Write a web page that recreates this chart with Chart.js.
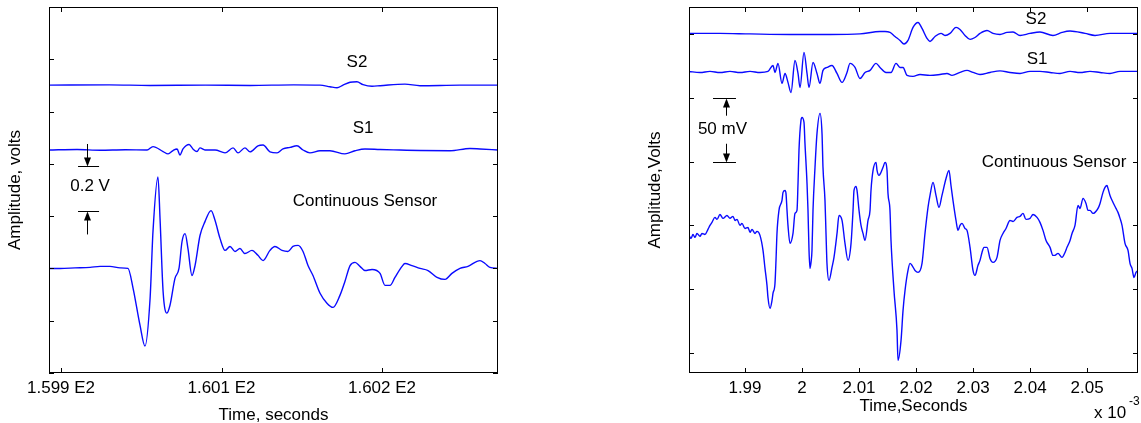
<!DOCTYPE html>
<html>
<head>
<meta charset="utf-8">
<script src="https://cdn.jsdelivr.net/npm/chart.js@4"></script>
<style>
body { margin: 0; background: #fff; width: 1141px; height: 423px; overflow: hidden; position: relative; }
canvas { position: absolute; top: 0; }
#leftChart { left: 0; }
#rightChart { left: 640px; }
</style>
</head>
<body>
<canvas id="leftChart" width="570" height="423"></canvas>
<canvas id="rightChart" width="501" height="423"></canvas>
<script>
// ---- left panel: time in tick steps, amplitude in volts ----
const leftXTicks = [0, 1, 2];
const leftXTickLabels = ['1.599 E2', '1.601 E2', '1.602 E2'];
const leftYTicks = [-0.4, -0.2, 0, 0.2, 0.4, 0.6, 0.8, 1.0];

const contLeftT = [-0.075,-0.006,0.087,0.181,0.243,0.305,0.368,0.417,0.449,0.492,0.523,0.555,0.573,0.604,0.617,0.636,0.660,0.679,0.710,0.735,0.754,0.773,0.791,0.816,0.835,0.866,0.897,0.935,0.960,0.991,1.022,1.053,1.084,1.115,1.146,1.190,1.227,1.259,1.302,1.333,1.377,1.414,1.445,1.477,1.508,1.539,1.570,1.614,1.657,1.695,1.738,1.769,1.801,1.832,1.863,1.894,1.938,1.988,2.019,2.050,2.081,2.125,2.143,2.187,2.237,2.287,2.343,2.393,2.436,2.486,2.536,2.611,2.642,2.673,2.723];
const contLeftV = [0,0,0.002,0.004,0.008,0.008,0.002,0,-0.076,-0.217,-0.297,-0.114,0.141,0.350,0.190,-0.088,-0.171,-0.141,-0.038,0,0.103,0.133,0.076,-0.027,0.011,0.126,0.179,0.221,0.183,0.114,0.069,0.084,0.065,0.076,0.057,0.069,0.050,0.030,0.069,0.084,0.069,0.065,0.084,0.088,0.065,0.011,-0.027,-0.095,-0.133,-0.149,-0.103,-0.050,0.011,0.023,0.008,-0.008,-0.004,-0.019,-0.065,-0.065,-0.034,0.008,0.019,0.011,0,-0.008,-0.034,-0.042,-0.019,0,0.008,0.030,0.019,0.004,0];

const s1LeftT = [-0.075,0.100,0.243,0.400,0.536,0.573,0.636,0.667,0.698,0.723,0.741,0.760,0.798,0.822,0.847,0.866,0.897,0.960,1.022,1.072,1.103,1.146,1.178,1.227,1.259,1.302,1.346,1.383,1.427,1.470,1.508,1.551,1.614,1.676,1.769,1.832,1.894,1.988,2.112,2.237,2.424,2.548,2.611,2.723];
const s1LeftV = [0.453,0.455,0.452,0.454,0.453,0.466,0.447,0.438,0.451,0.457,0.434,0.457,0.474,0.457,0.447,0.461,0.453,0.453,0.442,0.461,0.442,0.461,0.446,0.469,0.472,0.446,0.442,0.457,0.463,0.469,0.453,0.442,0.450,0.450,0.438,0.450,0.457,0.455,0.453,0.451,0.450,0.459,0.457,0.453];

const s2LeftT = [-0.075,0.300,0.555,0.900,1.178,1.450,1.614,1.676,1.720,1.757,1.801,1.844,1.882,1.938,1.988,2.143,2.237,2.486,2.723];
const s2LeftV = [0.701,0.702,0.700,0.701,0.700,0.702,0.701,0.695,0.691,0.701,0.712,0.714,0.703,0.697,0.699,0.705,0.699,0.701,0.701];

// ---- right panel: time in 1e-3 s, amplitude in mV ----
const rightXTicks = [1.99, 2.00, 2.01, 2.02, 2.03, 2.04, 2.05];
const rightXTickLabels = ['1.99', '2', '2.01', '2.02', '2.03', '2.04', '2.05'];
const rightYTicks = [-100, -50, 0, 50, 100, 150];

const contRightX = [1.98018,1.98053,1.98088,1.98123,1.98158,1.98211,1.98246,1.98298,1.98351,1.98386,1.98421,1.98474,1.98509,1.98561,1.98614,1.98684,1.98737,1.98790,1.98825,1.98860,1.98912,1.98947,1.99000,1.99053,1.99088,1.99123,1.99175,1.99210,1.99263,1.99316,1.99351,1.99386,1.99403,1.99439,1.99474,1.99491,1.99526,1.99544,1.99561,1.99596,1.99649,1.99667,1.99702,1.99719,1.99737,1.99754,1.99789,1.99842,1.99877,1.99912,1.99930,1.99947,1.99982,2.00000,2.00035,2.00052,2.00088,2.00105,2.00123,2.00140,2.00158,2.00175,2.00193,2.00228,2.00263,2.00316,2.00351,2.00368,2.00403,2.00421,2.00438,2.00474,2.00526,2.00561,2.00614,2.00649,2.00702,2.00754,2.00807,2.00860,2.00895,2.00912,2.00947,2.00965,2.01000,2.01035,2.01070,2.01105,2.01158,2.01193,2.01210,2.01246,2.01298,2.01316,2.01351,2.01385,2.01421,2.01456,2.01491,2.01508,2.01543,2.01561,2.01613,2.01666,2.01684,2.01737,2.01772,2.01807,2.01859,2.01894,2.01929,2.01982,2.02035,2.02105,2.02157,2.02210,2.02245,2.02298,2.02350,2.02403,2.02455,2.02526,2.02578,2.02613,2.02648,2.02701,2.02736,2.02771,2.02806,2.02859,2.02894,2.02947,2.02999,2.03034,2.03087,2.03122,2.03157,2.03192,2.03245,2.03297,2.03350,2.03420,2.03473,2.03525,2.03578,2.03648,2.03701,2.03771,2.03824,2.03876,2.03929,2.03999,2.04052,2.04122,2.04174,2.04227,2.04280,2.04350,2.04402,2.04437,2.04490,2.04560,2.04613,2.04648,2.04701,2.04736,2.04788,2.04841,2.04876,2.04929,2.04981,2.05016,2.05051,2.05104,2.05139,2.05192,2.05227,2.05279,2.05314,2.05349,2.05367,2.05402,2.05455,2.05507,2.05542,2.05578,2.05613,2.05665,2.05718,2.05753,2.05788,2.05823,2.05858,2.05893];
const contRightY = [-7.8,-10.2,-7.1,-9.4,-6.3,-8.6,-6.3,-7.1,-3.1,0,2.4,6.3,4.7,8.6,5.5,7.8,5.5,7.1,3.9,4.7,0,1.6,-2.4,-1.6,-5.5,-3.1,-6.3,-4.7,-7.8,-19.6,-33.7,-47.0,-56.4,-65.0,-58.8,-53.3,-45.5,-27.4,-6.3,11.8,19.6,25.9,27.4,25.1,11.8,0,-14.1,-6.3,9.4,11.8,32.9,58.8,82.3,84.6,80.7,64.3,32.9,11.8,-19.6,-33.7,-29.0,-19.6,11.8,45.5,72.1,87.8,72.1,45.5,19.6,-6.3,-29.8,-43.1,-32.9,-25.1,-6.3,7.8,3.9,-14.1,-27.4,-14.1,11.8,27.4,30.6,27.4,11.8,0,-6.3,-11.8,3.9,11.8,27.4,43.1,49.4,43.1,39.2,41.5,45.5,49.4,43.1,25.1,11.8,-11.8,-50.9,-82.3,-105.8,-90.1,-66.6,-50.9,-35.3,-29.8,-31.3,-35.3,-36.8,-29.8,-6.3,14.1,23.5,33.7,23.5,14.1,23.5,36.8,43.1,31.3,19.6,3.9,-3.9,0,1.6,-2.4,-3.9,-17.2,-35.3,-39.2,-31.3,-27.4,-21.2,-17.2,-17.2,-25.9,-29.0,-25.1,-11.8,-6.3,-2.4,3.9,3.1,6.3,7.1,9.4,4.7,5.5,8.6,6.3,2.4,-3.9,-11.8,-17.2,-23.5,-23.5,-21.9,-25.1,-21.2,-17.2,-11.8,-6.3,0,15.7,13.3,21.2,17.2,11.8,11.8,9.4,10.2,13.3,17.2,25.9,29.8,31.3,29.0,23.5,18.0,13.3,10.2,5.5,0,-14.1,-19.6,-29.8,-33.7,-40.8,-36.8,-35.3];

const s1RightX = [1.98018,1.98211,1.98386,1.98561,1.98737,1.98912,1.99088,1.99263,1.99403,1.99491,1.99526,1.99579,1.99649,1.99702,1.99754,1.99807,1.99877,1.99930,1.99965,2.00035,2.00088,2.00123,2.00193,2.00263,2.00316,2.00368,2.00438,2.00526,2.00614,2.00702,2.00789,2.00842,2.00930,2.01017,2.01105,2.01193,2.01298,2.01368,2.01473,2.01561,2.01649,2.01719,2.01772,2.01842,2.01947,2.02070,2.02245,2.02420,2.02543,2.02631,2.02771,2.02894,2.02999,2.03122,2.03297,2.03473,2.03648,2.03824,2.03999,2.04174,2.04350,2.04525,2.04701,2.04876,2.05051,2.05227,2.05402,2.05578,2.05893];
const s1RightY = [120.7,119.9,120.7,119.9,120.7,119.9,120.7,119.9,120.7,125.4,119.9,127.0,111.3,119.1,112.1,104.2,129.3,119.1,108.1,135.6,119.1,108.1,127.7,119.1,111.3,121.5,123.8,125.4,119.1,112.1,119.9,127.0,123.8,115.2,119.9,121.5,127.0,123.8,119.9,119.9,127.0,123.8,123.8,117.6,116.8,118.3,117.6,118.3,119.1,117.6,119.9,121.5,119.9,118.3,119.9,121.1,119.9,119.1,120.7,120.7,119.9,119.1,120.7,119.9,120.7,119.9,119.1,120.7,120.7];

const s2RightX = [1.98018,1.98561,1.99088,1.99789,2.00491,2.01017,2.01368,2.01456,2.01543,2.01631,2.01719,2.01789,2.01859,2.01947,2.02035,2.02105,2.02192,2.02245,2.02333,2.02438,2.02508,2.02596,2.02701,2.02771,2.02859,2.02947,2.03034,2.03122,2.03245,2.03350,2.03473,2.03595,2.03701,2.03824,2.03999,2.04174,2.04402,2.04560,2.04701,2.04964,2.05139,2.05402,2.05665,2.05893];
const s2RightY = [150.5,150.5,150.1,149.7,149.7,150.1,152.0,152.0,151.3,148.1,145.0,142.2,145.0,155.2,159.1,154.4,146.6,144.2,148.1,150.5,148.9,150.5,155.2,153.6,148.9,145.8,147.3,150.5,152.8,150.5,149.7,151.3,151.6,148.9,150.5,151.6,148.9,151.3,152.4,150.5,148.9,150.5,150.5,150.5];

const FONT = 'Arial, "Liberation Sans", sans-serif';
const TEXT_SIZE = 17;
const TRACE = '#0a0aff';

function pts(xs, ys) {
    return xs.map((x, i) => ({ x: x, y: ys[i] }));
}

function trace(xs, ys) {
    return {
        data: pts(xs, ys), borderColor: TRACE, borderWidth: 1.4, pointRadius: 0,
        cubicInterpolationMode: 'monotone', fill: false
    };
}

// arrow line with filled head at yTo
function arrow(ctx, x, yFrom, yTo) {
    const dir = yTo > yFrom ? 1 : -1;
    ctx.beginPath();
    ctx.moveTo(x, yFrom);
    ctx.lineTo(x, yTo - dir * 6);
    ctx.stroke();
    ctx.beginPath();
    ctx.moveTo(x, yTo);
    ctx.lineTo(x - 3.5, yTo - dir * 9);
    ctx.lineTo(x + 3.5, yTo - dir * 9);
    ctx.closePath();
    ctx.fill();
}

// box, inward ticks on four sides, labels and the scale bar
const framePlugin = {
    id: 'frame',
    afterDraw(chart, args, opts) {
        const { ctx, chartArea: a } = chart;
        const xs = chart.scales.x, ys = chart.scales.y;
        ctx.save();
        ctx.strokeStyle = '#000';
        ctx.fillStyle = '#000';
        ctx.lineWidth = 1;
        ctx.strokeRect(a.left + 0.5, a.top + 0.5, a.right - a.left - 1, a.bottom - a.top - 1);
        ctx.beginPath();
        opts.xTicks.forEach(v => {
            const px = Math.round(xs.getPixelForValue(v)) + 0.5;
            ctx.moveTo(px, a.bottom); ctx.lineTo(px, a.bottom - 5);
            ctx.moveTo(px, a.top); ctx.lineTo(px, a.top + 5);
        });
        opts.yTicks.forEach(v => {
            const py = Math.round(ys.getPixelForValue(v)) + 0.5;
            ctx.moveTo(a.left, py); ctx.lineTo(a.left + 5, py);
            ctx.moveTo(a.right, py); ctx.lineTo(a.right - 5, py);
        });
        ctx.stroke();

        ctx.font = TEXT_SIZE + 'px ' + FONT;
        ctx.textAlign = 'center';
        ctx.textBaseline = 'middle';
        opts.labels.forEach(l => {
            ctx.fillText(l.text, xs.getPixelForValue(l.x), ys.getPixelForValue(l.y));
        });

        const b = opts.bar;
        const bx = Math.round(xs.getPixelForValue(b.x)) + 0.5;
        const x0 = xs.getPixelForValue(b.x0), x1 = xs.getPixelForValue(b.x1);
        ctx.beginPath();
        b.lines.forEach(v => {
            const py = Math.round(ys.getPixelForValue(v)) + 0.5;
            ctx.moveTo(x0, py); ctx.lineTo(x1, py);
        });
        ctx.stroke();
        b.arrows.forEach(ar => {
            arrow(ctx, bx, ys.getPixelForValue(ar[0]), Math.round(ys.getPixelForValue(ar[1])) + 0.5);
        });

        if (opts.exponent) {
            ctx.textAlign = 'left';
            ctx.fillText('x 10', 454, 413);
            ctx.font = '12px ' + FONT;
            ctx.fillText('-3', 489, 402);
        }
        ctx.restore();
    }
};

function makeChart(id, datasets, cfg) {
    const titleFont = { family: FONT, size: TEXT_SIZE };
    return new Chart(document.getElementById(id), {
        type: 'line',
        data: { datasets: datasets },
        plugins: [framePlugin],
        options: {
            responsive: false,
            animation: false,
            events: [],
            layout: { padding: { top: 7, right: cfg.padRight, bottom: 0, left: 0 } },
            plugins: {
                legend: { display: false },
                tooltip: { enabled: false },
                frame: cfg.frame
            },
            scales: {
                x: {
                    type: 'linear',
                    min: cfg.xMin,
                    max: cfg.xMax,
                    afterBuildTicks: s => { s.ticks = cfg.frame.xTicks.map(v => ({ value: v })); },
                    afterFit: s => { s.height = 50; },
                    grid: { display: false, drawTicks: false },
                    border: { display: false },
                    ticks: {
                        autoSkip: false, maxRotation: 0, padding: 5, color: '#000', font: titleFont,
                        callback: (v, i) => cfg.xLabels[i]
                    },
                    title: { display: true, text: cfg.xTitle, color: '#000', font: titleFont, padding: { top: 0, bottom: cfg.xTitlePad } }
                },
                y: {
                    type: 'linear',
                    min: cfg.yMin,
                    max: cfg.yMax,
                    afterFit: s => { s.width = 49; },
                    grid: { display: false, drawTicks: false },
                    border: { display: false },
                    ticks: { display: false },
                    title: { display: true, text: cfg.yTitle, color: '#000', font: titleFont, padding: { top: 5, bottom: 0 } }
                }
            }
        }
    });
}

makeChart('leftChart', [
    trace(s2LeftT, s2LeftV),
    trace(s1LeftT, s1LeftV),
    trace(contLeftT, contLeftV)
], {
    xMin: -0.075, xMax: 2.723, yMin: -0.4, yMax: 1.0, padRight: 72,
    xLabels: leftXTickLabels,
    xTitle: 'Time, seconds', xTitlePad: -3,
    yTitle: 'Amplitude, volts',
    frame: {
        xTicks: leftXTicks, yTicks: leftYTicks,
        labels: [
            { text: 'S2', x: 1.844, y: 0.789 },
            { text: 'S1', x: 1.882, y: 0.535 },
            { text: 'Continuous Sensor', x: 1.894, y: 0.255 },
            { text: '0.2 V', x: 0.181, y: 0.316 }
        ],
        bar: { x: 0.162, x0: 0.106, x1: 0.237, lines: [0.392, 0.221], arrows: [[0.476, 0.392], [0.130, 0.221]] },
        exponent: false
    }
});

makeChart('rightChart', [
    trace(s2RightX, s2RightY),
    trace(s1RightX, s1RightY),
    trace(contRightX, contRightY)
], {
    xMin: 1.98018, xMax: 2.05893, yMin: -115.7, yMax: 171.2, padRight: 3,
    xLabels: rightXTickLabels,
    xTitle: 'Time,Seconds', xTitlePad: 6,
    yTitle: 'Amplitude,Volts',
    frame: {
        xTicks: rightXTicks, yTicks: rightYTicks,
        labels: [
            { text: 'S2', x: 2.04104, y: 161.4 },
            { text: 'S1', x: 2.04122, y: 130.1 },
            { text: 'Continuous Sensor', x: 2.04420, y: 49.4 },
            { text: '50 mV', x: 1.98605, y: 75.2 }
        ],
        bar: { x: 1.98667, x0: 1.98439, x1: 1.98842, lines: [100, 50], arrows: [[86, 100], [64, 50]] },
        exponent: true
    }
});
</script>
</body>
</html>
